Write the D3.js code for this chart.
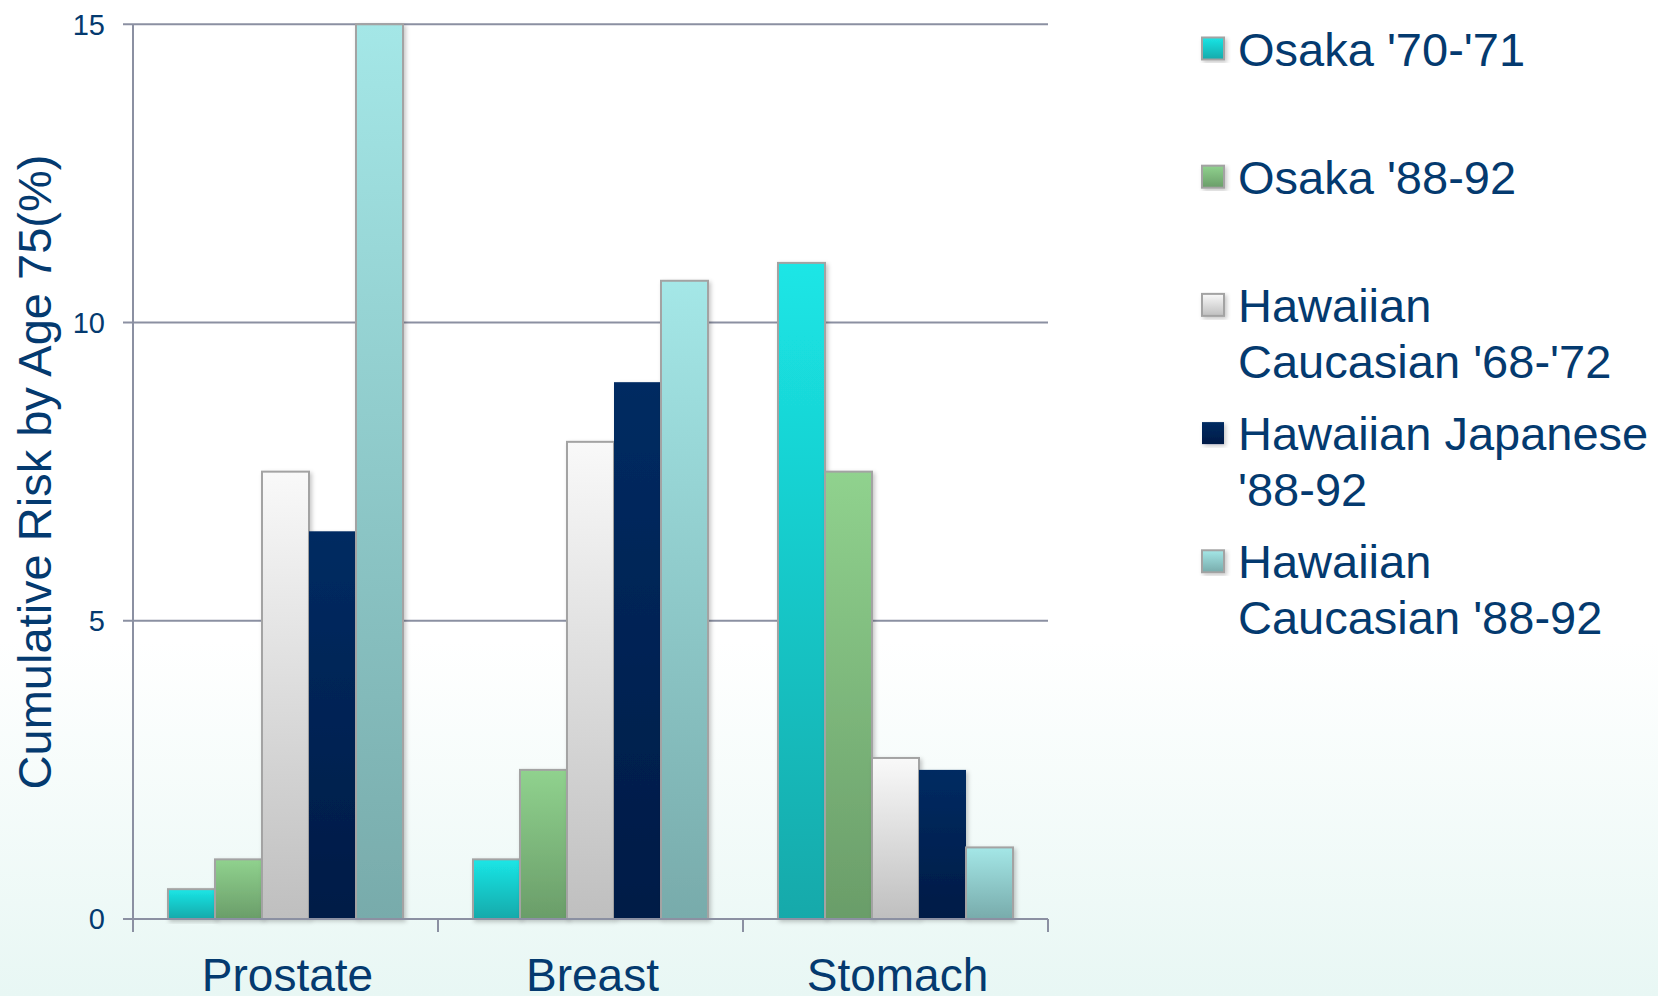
<!DOCTYPE html>
<meta charset="utf-8">
<style>
  html, body { margin: 0; padding: 0; }
  body { width: 1658px; height: 996px; overflow: hidden;
         background: linear-gradient(to bottom, #ffffff 0px, #ffffff 640px, #e8f7f4 996px); }
  svg { display: block; font-family: "Liberation Sans", Arial, sans-serif; }
</style>
<svg width="1658" height="996"></svg>
<script src="https://d3js.org/d3.v7.min.js"></script>
<script>

var categories = ["Prostate", "Breast", "Stomach"];
var series = ["Osaka '70-'71", "Osaka '88-92", "Hawaiian Caucasian '68-'72",
              "Hawaiian Japanese '88-92", "Hawaiian Caucasian '88-92"];
// one row per series, one value per category
var osaka7071 = [0.5, 1.0, 11.0];
var osaka8892 = [1.0, 2.5, 7.5];
var hawCauc6872 = [7.5, 8.0, 2.7];
var hawJap8892 = [6.5, 9.0, 2.5];
var hawCauc8892 = [15.0, 10.7, 1.2];
var yTicks = [0, 5, 10, 15];
var legendLines = [["Osaka '70-'71"], ["Osaka '88-92"], ["Hawaiian", "Caucasian '68-'72"],
                   ["Hawaiian Japanese", "'88-92"], ["Hawaiian", "Caucasian '88-92"]];

var values = [osaka7071, osaka8892, hawCauc6872, hawJap8892, hawCauc8892];

// top / bottom gradient stops and border for each series
var grads = [
  {top: "#1be6e6", bottom: "#12a9aa", stroke: "#a3a3a3"},
  {top: "#90d28e", bottom: "#6a9d69", stroke: "#a3a3a3"},
  {top: "#f9f9f9", bottom: "#bfbfbf", stroke: "#a3a3a3"},
  {top: "#032b62", bottom: "#001b46", stroke: "none"},
  {top: "#a4e7e7", bottom: "#78abab", stroke: "#a3a3a3"}
];

var textColor = "#043a6f",
    gridColor = "#8b90a2";

var svg = d3.select("svg");
var defs = svg.append("defs");

grads.forEach(function(g, i) {
  var lg = defs.append("linearGradient")
      .attr("id", "grad" + i)
      .attr("x1", 0).attr("y1", 0).attr("x2", 0).attr("y2", 1);
  lg.append("stop").attr("offset", "0%").attr("stop-color", g.top);
  lg.append("stop").attr("offset", "100%").attr("stop-color", g.bottom);
});

var shadow = defs.append("filter").attr("id", "shadow")
    .attr("x", "-20%").attr("y", "-5%").attr("width", "150%").attr("height", "120%");
shadow.append("feDropShadow")
    .attr("dx", 2).attr("dy", 2).attr("stdDeviation", 2)
    .attr("flood-color", "#000").attr("flood-opacity", 0.22);

var plotLeft = 133, plotRight = 1048, plotTop = 24.3, plotBottom = 919;

var x0 = d3.scaleBand()
    .domain(categories)
    .range([plotLeft, plotRight])
    .paddingInner(0).paddingOuter(0);

var x1 = d3.scaleBand()
    .domain(series)
    .range([35, x0.bandwidth() - 35]);

var y = d3.scaleLinear()
    .domain([0, 15])
    .range([plotBottom, plotTop]);

// gridlines + y ticks
svg.append("g")
  .selectAll("line")
  .data(yTicks)
  .enter().append("line")
    .attr("x1", plotLeft - 10)
    .attr("x2", plotRight)
    .attr("y1", function(d) { return y(d); })
    .attr("y2", function(d) { return y(d); })
    .attr("stroke", gridColor)
    .attr("stroke-width", 2);

svg.append("g")
  .selectAll("text")
  .data(yTicks)
  .enter().append("text")
    .attr("x", 105)
    .attr("y", function(d) { return y(d); })
    .attr("dy", "0.36em")
    .attr("text-anchor", "end")
    .attr("font-size", 29)
    .attr("fill", textColor)
    .text(function(d) { return d; });

// y axis line
svg.append("line")
    .attr("x1", plotLeft).attr("x2", plotLeft)
    .attr("y1", plotTop).attr("y2", plotBottom + 13)
    .attr("stroke", gridColor)
    .attr("stroke-width", 2);

// category ticks
svg.append("g")
  .selectAll("line")
  .data(categories)
  .enter().append("line")
    .attr("x1", function(d) { return x0(d) + x0.bandwidth(); })
    .attr("x2", function(d) { return x0(d) + x0.bandwidth(); })
    .attr("y1", plotBottom)
    .attr("y2", plotBottom + 13)
    .attr("stroke", gridColor)
    .attr("stroke-width", 2);

// bars
var groups = svg.append("g")
  .selectAll("g")
  .data(categories)
  .enter().append("g")
    .attr("transform", function(d) { return "translate(" + x0(d) + ",0)"; });

groups.selectAll("rect")
  .data(function(c, ci) {
    return series.map(function(s, si) { return {s: s, si: si, v: values[si][ci]}; });
  })
  .enter().append("rect")
    .attr("x", function(d) { return x1(d.s); })
    .attr("width", x1.bandwidth())
    .attr("y", function(d) { return y(d.v); })
    .attr("height", function(d) { return y(0) - y(d.v); })
    .attr("fill", function(d) { return "url(#grad" + d.si + ")"; })
    .attr("stroke", function(d) { return grads[d.si].stroke; })
    .attr("stroke-width", 2)
    .attr("filter", "url(#shadow)");

// x axis line on top of bars
svg.append("line")
    .attr("x1", plotLeft - 10).attr("x2", plotRight)
    .attr("y1", plotBottom).attr("y2", plotBottom)
    .attr("stroke", gridColor)
    .attr("stroke-width", 2);

// category labels
svg.append("g")
  .selectAll("text")
  .data(categories)
  .enter().append("text")
    .attr("x", function(d) { return x0(d) + x0.bandwidth() / 2 + 2; })
    .attr("y", 991)
    .attr("text-anchor", "middle")
    .attr("font-size", 46)
    .attr("fill", textColor)
    .text(function(d) { return d; });

// y axis title
svg.append("text")
    .attr("transform", "translate(51,472) rotate(-90)")
    .attr("text-anchor", "middle")
    .attr("font-size", 47)
    .attr("fill", textColor)
    .text("Cumulative Risk by Age 75(%)");

// legend
var legend = svg.append("g")
  .selectAll("g")
  .data(legendLines)
  .enter().append("g")
    .attr("transform", function(d, i) { return "translate(1202," + (65.5 + i * 128.2) + ")"; });

legend.append("rect")
    .attr("x", 0)
    .attr("y", -28)
    .attr("width", 22)
    .attr("height", 22)
    .attr("fill", function(d, i) { return "url(#grad" + i + ")"; })
    .attr("stroke", function(d, i) { return grads[i].stroke; })
    .attr("stroke-width", 2)
    .attr("filter", "url(#shadow)");

legend.append("text")
    .attr("x", 36)
    .attr("font-size", 47)
    .attr("fill", textColor)
  .selectAll("tspan")
  .data(function(d) { return d; })
  .enter().append("tspan")
    .attr("x", 36)
    .attr("y", function(d, i) { return i * 56; })
    .text(function(d) { return d; });

</script>
